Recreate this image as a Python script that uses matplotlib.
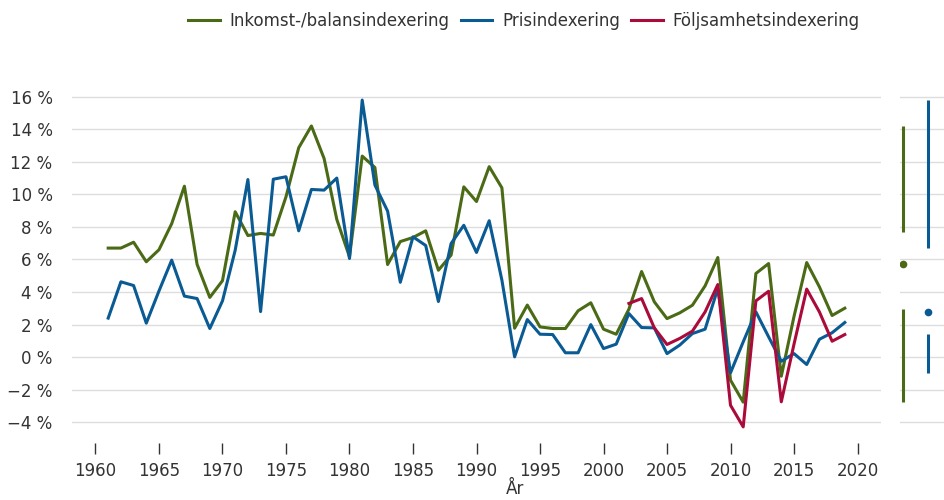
import matplotlib.pyplot as plt
import numpy as np

green = '#4b6a16'
blue = '#0a5a94'
red = '#aa0b3a'
text_col = '#333333'
grid_col = '#dddddd'

years = list(range(1961, 2020))
inkomst = [6.7, 6.7, 7.06, 5.86, 6.6, 8.2, 10.5, 5.7, 3.67, 4.7,
           8.93, 7.47, 7.6, 7.5, 9.85, 12.86, 14.2, 12.2, 8.46, 6.16,
           12.35, 11.65, 5.69, 7.1, 7.35, 7.76, 5.34, 6.27, 10.46, 9.56,
           11.7, 10.4, 1.78, 3.2, 1.86, 1.76, 1.76, 2.85, 3.34, 1.72,
           1.41, 2.95, 5.26, 3.4, 2.37, 2.72, 3.19, 4.38, 6.12, -1.41,
           -2.76, 5.14, 5.75, -1.17, 2.5, 5.81, 4.32, 2.56, 3.01]
pris = [2.4, 4.63, 4.4, 2.09, 4.07, 5.96, 3.75, 3.6, 1.76, 3.46,
        6.57, 10.91, 2.8, 10.93, 11.08, 7.76, 10.3, 10.26, 11.0, 6.06,
        15.79, 10.57, 8.97, 4.6, 7.39, 6.86, 3.42, 6.98, 8.1, 6.43,
        8.38, 4.73, 0.02, 2.31, 1.41, 1.39, 0.27, 0.27, 2.0, 0.53,
        0.8, 2.68, 1.82, 1.8, 0.22, 0.74, 1.45, 1.72, 4.22, -0.96,
        0.94, 2.78, 1.25, -0.25, 0.22, -0.45, 1.1, 1.5, 2.13]
folj_years = list(range(2002, 2020))
folj = [3.3, 3.6, 1.8, 0.78, 1.15, 1.6, 2.78, 4.46, -2.95, -4.28,
        3.46, 4.05, -2.74, 0.8, 4.18, 2.78, 0.98, 1.39]

labels = ['Inkomst-/balansindexering', 'Prisindexering', 'Följsamhetsindexering']
yticks = list(range(-4, 17, 2))
xticks = list(range(1960, 2021, 5))

plt.rcParams['font.family'] = 'DejaVu Sans'
fig = plt.figure(figsize=(9.44, 5), dpi=100)
ax = fig.add_axes([72/944, 0.114, (881-72)/944, 0.709])
side = fig.add_axes([900/944, 0.114, 44/944, 0.709])

ax.plot(years, inkomst, color=green, lw=2.2, label=labels[0])
ax.plot(years, pris, color=blue, lw=2.2, label=labels[1])
ax.plot(folj_years, folj, color=red, lw=2.2, label=labels[2])

ylim = (-5.27, 16.5)
for a in (ax, side):
    a.set_ylim(*ylim)
    a.set_yticks(yticks)
    a.grid(axis='y', color=grid_col, lw=1.0)
    a.set_axisbelow(True)
    for s in a.spines.values():
        s.set_visible(False)

ax.set_xlim(1958.15, 2021.85)
ax.set_xticks(xticks)
ax.set_yticklabels([f'{v} %'.replace('-', '\u2212') for v in yticks])
ax.tick_params(axis='y', length=0, pad=14, labelsize=12, labelcolor=text_col)
ax.tick_params(axis='x', length=8, width=1, color=text_col, pad=6,
               labelsize=12, labelcolor=text_col)

# min-Q1 and Q3-max whiskers with a median dot for each series
side.set_xlim(-0.1, 1.6)
side.set_xticks([])
side.tick_params(axis='y', length=0, labelleft=False)
for i, (vals, col) in enumerate([(inkomst, green), (pris, blue)]):
    lo, q1, med, q3, hi = np.percentile(vals, [0, 25, 50, 75, 100])
    side.plot([i, i], [lo, q1], color=col, lw=2.2, solid_capstyle='butt')
    side.plot([i, i], [q3, hi], color=col, lw=2.2, solid_capstyle='butt')
    side.plot([i], [med], 'o', color=col, ms=4.5)

fig.text(515/944, 0.004, 'År', ha='center', va='bottom', fontsize=12, color=text_col)
fig.legend(loc='center', bbox_to_anchor=(524/944, 0.958), ncol=3, frameon=False,
           fontsize=12, handlelength=1.9, handletextpad=0.6, columnspacing=0.65,
           labelcolor=text_col)

fig.savefig('out.png', dpi=100)
